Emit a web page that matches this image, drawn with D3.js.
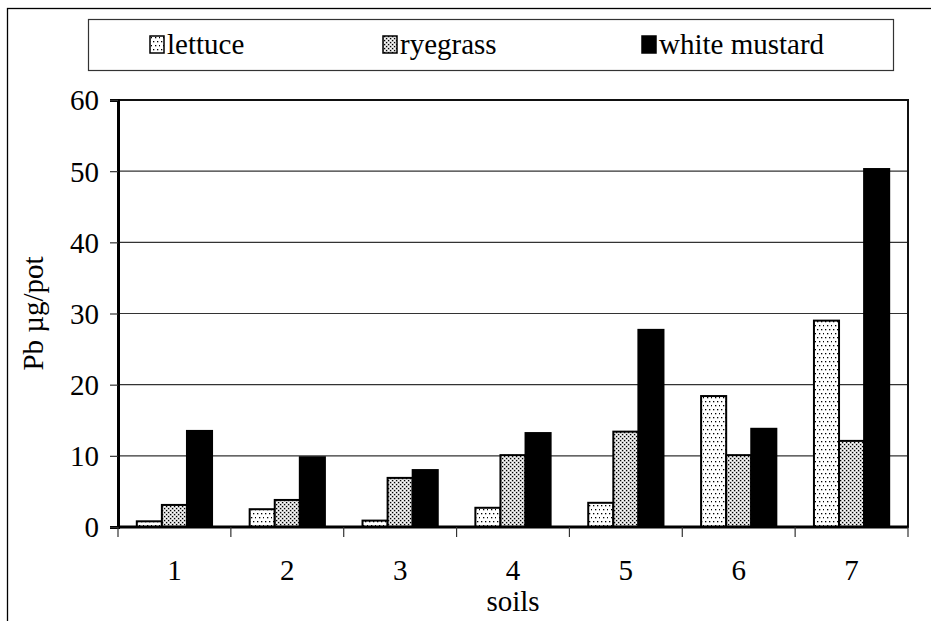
<!DOCTYPE html>
<html><head><meta charset="utf-8">
<script src="https://cdn.jsdelivr.net/npm/d3@7"></script>
<style>body{margin:0;background:#fff}svg{display:block}</style>
</head><body><svg id="c" width="931" height="621"></svg>
<script>
const categories = ["1","2","3","4","5","6","7"];
const seriesNames = ["lettuce","ryegrass","white mustard"];
const lettuce = [0.8, 2.5, 0.9, 2.7, 3.4, 18.4, 29.0];
const ryegrass = [3.1, 3.8, 6.9, 10.1, 13.4, 10.1, 12.1];
const whiteMustard = [13.5, 9.8, 8.0, 13.2, 27.7, 13.8, 50.3];
const yTicks = [0,10,20,30,40,50,60];

(function(){
const FONT = '"Liberation Serif"';
const FS = 29;
const series = [lettuce, ryegrass, whiteMustard];
const svg = d3.select("#c");
const defs = svg.append("defs");
const txt = sel => sel.style("font-family",FONT).style("font-size",FS+"px").attr("fill","#000");

const p1 = defs.append("pattern").attr("id","pLettuce").attr("patternUnits","userSpaceOnUse").attr("width",8).attr("height",8);
p1.append("rect").attr("width",8).attr("height",8).attr("fill","#fff");
[[1,1],[5,1],[3,5],[7,5]].forEach(([px,py])=>p1.append("rect").attr("x",px).attr("y",py).attr("width",1.3).attr("height",1.3).attr("fill","#000"));
const p2 = defs.append("pattern").attr("id","pRye").attr("patternUnits","userSpaceOnUse").attr("width",4).attr("height",4);
p2.append("rect").attr("width",4).attr("height",4).attr("fill","#d8d8d8");
[[0,0],[2,2]].forEach(([px,py])=>p2.append("rect").attr("x",px).attr("y",py).attr("width",1.2).attr("height",1.2).attr("fill","#000"));
[[2,0],[0,2]].forEach(([px,py])=>p2.append("rect").attr("x",px).attr("y",py).attr("width",1).attr("height",1).attr("fill","#fff"));
const fills = ["url(#pLettuce)","url(#pRye)","#000"];

svg.append("rect").attr("x",7.5).attr("y",8.5).attr("width",940).attr("height",640).attr("fill","none").attr("stroke","#000").attr("stroke-width",1.3);

const pL=118, pR=908, pT=100, pB=527;
const x0 = d3.scaleBand().domain(categories).range([pL,pR]);
const y = d3.scaleLinear().domain([0,60]).range([pB,pT]);
const catW = x0.bandwidth();
const barW = catW/4.5;

svg.append("g").selectAll("line").data(yTicks.filter(t=>t>0 && t<60)).join("line")
  .attr("x1",pL).attr("x2",pR).attr("y1",d=>y(d)).attr("y2",d=>y(d))
  .attr("stroke","#333").attr("stroke-width",1.2);

categories.forEach((c,i)=>{
  const gx = x0(c) + (catW - 3*barW)/2;
  series.forEach((s,j)=>{
    const v = s[i];
    svg.append("rect").attr("x",gx + j*barW).attr("y",y(v)).attr("width",barW).attr("height",y(0)-y(v))
      .attr("fill",fills[j]).attr("stroke","#000").attr("stroke-width",2);
  });
});

svg.append("rect").attr("x",pL).attr("y",pT).attr("width",pR-pL).attr("height",pB-pT)
  .attr("fill","none").attr("stroke","#111").attr("stroke-width",2);

const yAxis = d3.axisLeft(y).tickValues(yTicks).tickSize(8).tickPadding(11).tickFormat(d3.format("d"));
const gy = svg.append("g").attr("transform",`translate(${pL},0)`).call(yAxis);
gy.attr("font-family",null).attr("font-size",null);
gy.select(".domain").attr("stroke","#000").attr("stroke-width",3);
gy.selectAll(".tick line").attr("stroke","#333").attr("stroke-width",1.2);
gy.selectAll(".tick text").call(txt).attr("dy","0.34em");

const gxA = svg.append("g");
gxA.append("line").attr("x1",pL).attr("x2",pR).attr("y1",pB).attr("y2",pB).attr("stroke","#000").attr("stroke-width",3);
const bounds = d3.range(categories.length+1).map(k=> k<categories.length ? x0(categories[k]) : pR);
gxA.selectAll("line.t").data(bounds).join("line").attr("class","t")
  .attr("x1",d=>d).attr("x2",d=>d).attr("y1",pB).attr("y2",pB+10).attr("stroke","#333").attr("stroke-width",1.2);
gxA.selectAll("text").data(categories).join("text")
  .attr("x",d=>x0(d)+catW/2).attr("y",580).attr("text-anchor","middle").call(txt).text(d=>d);

svg.append("text").attr("x",(pL+pR)/2).attr("y",611).attr("text-anchor","middle").call(txt).text("soils");
svg.append("text").attr("transform",`translate(43,${(pT+pB)/2}) rotate(-90)`).attr("text-anchor","middle").call(txt).text("Pb µg/pot");

svg.append("rect").attr("x",88.5).attr("y",19.5).attr("width",805).attr("height",51).attr("fill","#fff").attr("stroke","#333").attr("stroke-width",1.2);
const legX = [150, 383, 642];
seriesNames.forEach((n,j)=>{
  svg.append("rect").attr("x",legX[j]).attr("y",36).attr("width",14).attr("height",17).attr("fill",fills[j]).attr("stroke","#000").attr("stroke-width",1.5);
  svg.append("text").attr("x",legX[j]+17).attr("y",54).call(txt).text(n);
});
})();
</script></body></html>
